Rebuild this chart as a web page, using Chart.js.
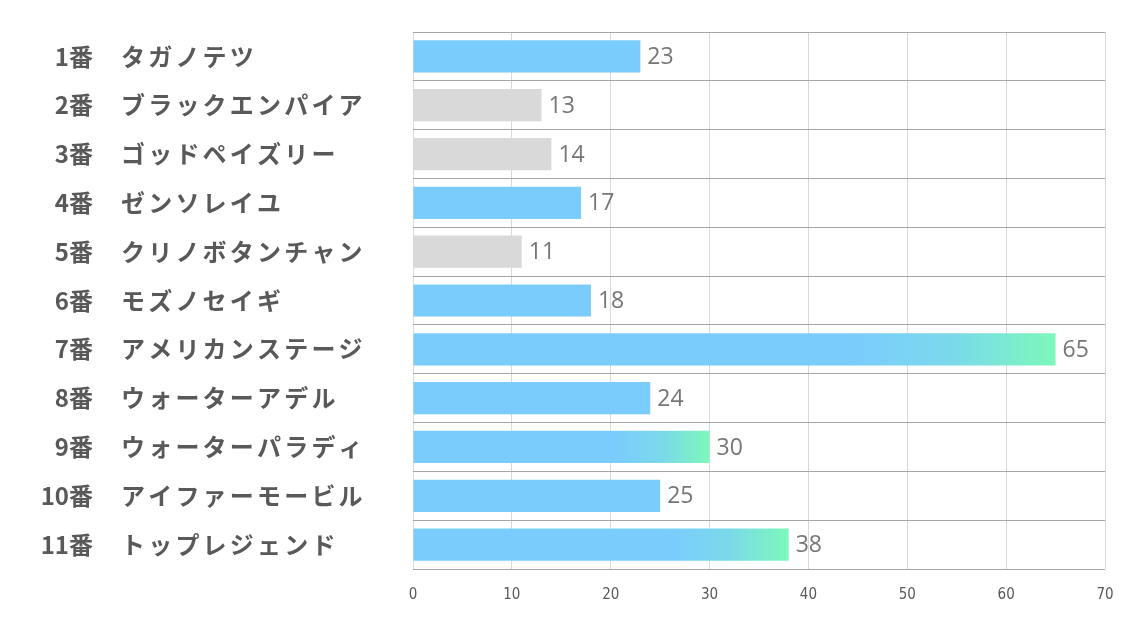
<!DOCTYPE html>
<html>
<head>
<meta charset="utf-8">
<title>Horse chart</title>
<script src="https://cdn.jsdelivr.net/npm/chart.js@4.4.0/dist/chart.umd.min.js"></script>
<style>
  * { margin: 0; padding: 0; box-sizing: border-box; }
  body { background: #ffffff; width: 1134px; height: 623px; overflow: hidden; }
  canvas { display: block; }
</style>
</head>
<body>
<canvas id="chart" width="1134" height="623"></canvas>
<script>
// horse numbers and names
const numbers = ['1番', '2番', '3番', '4番', '5番', '6番', '7番', '8番', '9番', '10番', '11番'];
const names = ['タガノテツ', 'ブラックエンパイア', 'ゴッドペイズリー', 'ゼンソレイユ', 'クリノボタンチャン',
  'モズノセイギ', 'アメリカンステージ', 'ウォーターアデル', 'ウォーターパラディ', 'アイファーモービル', 'トップレジェンド'];
const scores = [23, 13, 14, 17, 11, 18, 65, 24, 30, 25, 38];
// bar kind: b = blue, g = gray, x = blue with green fade
const kinds = ['b', 'g', 'g', 'b', 'g', 'b', 'x', 'b', 'x', 'b', 'x'];
const xTicks = [0, 10, 20, 30, 40, 50, 60, 70];

const BLUE = '#7accfd';
const GRAY = '#d9d9d9';
const GREEN = '#7df8bb';

function barColor(c) {
  const k = kinds[c.dataIndex];
  if (k === 'g') return GRAY;
  if (k === 'b') return BLUE;
  const { chart } = c;
  if (!chart.chartArea) return BLUE;
  const xs = chart.scales.x;
  const x0 = xs.getPixelForValue(0);
  const x1 = xs.getPixelForValue(scores[c.dataIndex]);
  const g = chart.ctx.createLinearGradient(x0, 0, x1, 0);
  g.addColorStop(0, BLUE);
  g.addColorStop(0.68, BLUE);
  g.addColorStop(0.84, '#7ad9ea');
  g.addColorStop(1, GREEN);
  return g;
}

// draws the row labels on the left and the values after the bars
const labelPlugin = {
  id: 'labels',
  afterDraw(chart) {
    const ctx = chart.ctx;
    const ys = chart.scales.y;
    ctx.save();
    ctx.fillStyle = '#595959';
    ctx.textBaseline = 'middle';
    numbers.forEach((n, i) => {
      const y = ys.getPixelForValue(i);
      ctx.font = 'bold 24px "Noto Sans CJK JP", sans-serif';
      ctx.letterSpacing = '0px';
      ctx.textAlign = 'right';
      ctx.fillText(n, 93, y);
      ctx.letterSpacing = '3.2px';
      ctx.textAlign = 'left';
      ctx.fillText(names[i], 121, y);
    });
    ctx.letterSpacing = '0px';
    ctx.font = '23px "Open Sans", sans-serif';
    ctx.fillStyle = '#767676';
    const meta = chart.getDatasetMeta(0);
    meta.data.forEach((bar, i) => {
      ctx.fillText(String(scores[i]), bar.x + 7, bar.y + 1);
    });
    ctx.restore();
  }
};

new Chart(document.getElementById('chart'), {
  type: 'bar',
  data: {
    labels: names,
    datasets: [{
      data: scores,
      backgroundColor: barColor,
      borderWidth: 0,
      categoryPercentage: 1,
      barPercentage: 0.66
    }]
  },
  options: {
    indexAxis: 'y',
    responsive: false,
    animation: false,
    layout: { padding: { left: 413, right: 29, top: 32, bottom: 2 } },
    plugins: {
      legend: { display: false },
      tooltip: { enabled: false }
    },
    scales: {
      x: {
        min: 0,
        max: 70,
        afterBuildTicks: s => { s.ticks = xTicks.map(v => ({ value: v })); },
        grid: { color: '#d9d9d9', drawTicks: false },
        border: { display: false },
        ticks: {
          padding: 17,
          color: '#595959',
          font: { family: '"Liberation Sans Narrow", "DejaVu Sans Condensed", sans-serif', size: 15 }
        }
      },
      y: {
        offset: true,
        grid: { color: '#a6a6a6', offset: true, drawTicks: false },
        border: { display: false },
        ticks: { display: false }
      }
    }
  },
  plugins: [labelPlugin]
});
</script>
</body>
</html>
